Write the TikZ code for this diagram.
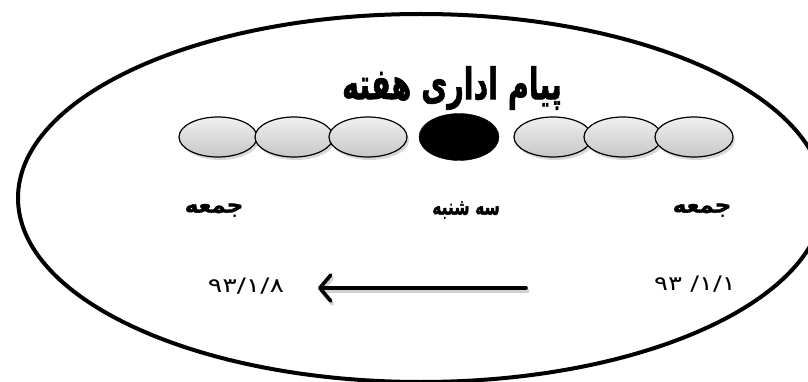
\documentclass[tikz,border=0pt]{standalone}
\usepackage{fontspec}
\TeXXeTstate=1
\newfontfamily\arabicfont[Script=Arabic]{DejaVu Sans}
\newfontfamily\heavyfont[Script=Arabic,FakeBold=1.6]{DejaVu Sans Bold}
\newfontfamily\digitfont{DejaVu Sans}
\usetikzlibrary{shapes.geometric,shadows,arrows.meta}

\tikzset{
  day/.style={ellipse, draw=black, line width=1.2pt,
    minimum width=78pt, minimum height=40pt, inner sep=0pt,
    top color=white!94!black, bottom color=white!78!black,
    drop shadow={opacity=0.3, shadow xshift=2pt, shadow yshift=-3pt}},
  today/.style={ellipse, fill=black, draw=black,
    minimum width=80pt, minimum height=47pt, inner sep=0pt},
  dayname/.style={font=\heavyfont\fontsize{19}{22}\selectfont, inner sep=0pt},
  datelabel/.style={font=\digitfont\fontsize{20}{24}\selectfont, inner sep=0pt},
  heading/.style={font=\heavyfont\fontsize{31}{36}\selectfont, inner sep=0pt},
  frame/.style={line width=4pt},
  timeline/.style={line width=3.6pt, line cap=round,
    -{Straight Barb[length=11pt,width=26pt,round]}}
}

\begin{document}
\begin{tikzpicture}[x=1pt,y=-1pt]
  \useasboundingbox (0,0) rectangle (808,382);
  \fill[white] (0,0) rectangle (808,382);

  % outer oval, running past the page edges
  \begin{scope}
    \clip (0,0) rectangle (808,382);
    \draw[frame] (421,198) ellipse [x radius=403pt, y radius=184pt];
  \end{scope}

  % title
  \node[heading] (title) at (452,88)
    {\scalebox{0.92}[1.4]{\beginR پیام اداری هفته\endR}};

  % the week, one oval per day
  \node[day] (d1) at (218,137) {};
  \node[day] (d2) at (294,137) {};
  \node[day] (d3) at (368,137) {};
  \node[today] (d4) at (459,137) {};
  \node[day] (d5) at (553,137) {};
  \node[day] (d6) at (623,137) {};
  \node[day] (d7) at (694,137) {};

  % day names
  \node[dayname] (fri1) at (214,210) {\scalebox{1.2}[1.2]{\beginR جمعه\endR}};
  \node[dayname] (tue) at (466,210) {\scalebox{0.82}[1.2]{\beginR سه شنبه\endR}};
  \node[dayname] (fri2) at (702,210) {\scalebox{1.2}[1.2]{\beginR جمعه\endR}};

  % dates, written left to right
  \node[datelabel] (dend) at (246,286) {\scalebox{1.35}[1]{\beginL ۹۳/۱/۸\endL}};
  \node[datelabel] (dstart) at (695,284) {\scalebox{1.3}[1]{\beginL ۹۳ /۱/۱\endL}};

  % direction of the week
  \coordinate (arrowstart) at (526,288);
  \coordinate (arrowend) at (318,288);
  \draw[timeline, black, opacity=0.18, transform canvas={xshift=1.5pt, yshift=-3pt}]
    (arrowstart) -- (arrowend);
  \draw[timeline] (arrowstart) -- (arrowend);
\end{tikzpicture}
\end{document}
